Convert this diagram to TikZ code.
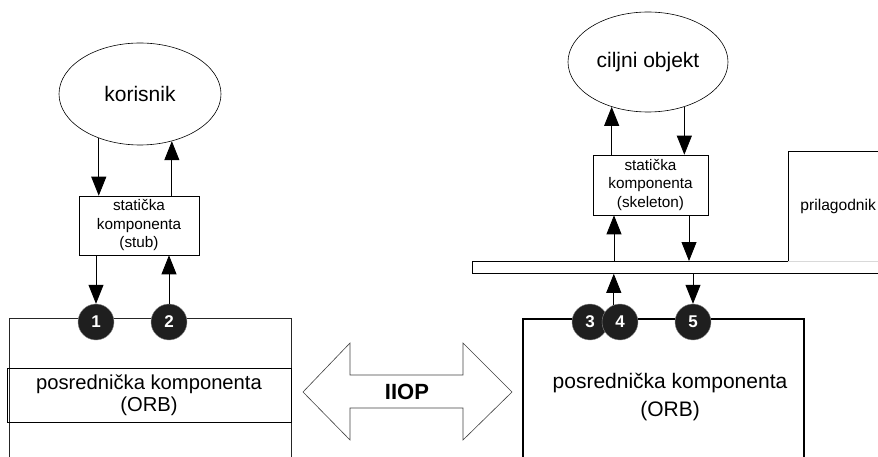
\documentclass[tikz,border=0pt]{standalone}
\usepackage{fontspec}
\setmainfont{Liberation Sans}
\usetikzlibrary{arrows.meta,shapes.geometric}
\begin{document}
\begin{tikzpicture}[x=1pt,y=-1pt,
  line/.style={draw=black!85, line width=0.8pt},
  arr/.style={-{Triangle[length=19pt,width=15pt]}, line width=0.8pt, draw=black, fill=black},
  actor/.style={ellipse, draw, line width=0.6pt, inner sep=0pt, font=\fontsize{21}{24}\selectfont},
  stubbox/.style={rectangle, draw, line width=0.6pt, inner sep=0pt, align=center, font=\fontsize{15.3}{18.5}\selectfont},
  num/.style={circle, fill=black!88, draw=black!45, line width=0.4pt, minimum size=36pt, inner sep=0pt, text=white, font=\bfseries\fontsize{17}{17}\selectfont},
  big/.style={font=\fontsize{20.2}{22}\selectfont, align=center}
]
\useasboundingbox (0,0) rectangle (878,457);

% client and target objects
\node[actor, minimum width=162pt, minimum height=102pt] (kor) at (140,94) {korisnik};
\node[actor, minimum width=160pt, minimum height=100pt] (cilj) at (648,62) {ciljni objekt};

% static components
\node[stubbox, minimum width=120pt, minimum height=59pt] (stub) at (139,225.5) {statička\\komponenta\\(stub)};
\node[stubbox, minimum width=115pt, minimum height=60pt] (skel) at (650.5,185) {statička\\komponenta\\(skeleton)};

% left ORB
\draw[line] (9,457) -- (9,318) -- (291,318) -- (291,457);
\node[draw, line width=0.8pt, minimum width=284pt, minimum height=54pt, inner sep=0pt, big] (orbL) at (149,395) {posrednička komponenta\\(ORB)};

% right ORB
\draw[line width=1.6pt] (523,457) -- (523,319) -- (804,319) -- (804,457);
\node[align=center, font=\fontsize{21}{28}\selectfont] (orbR) at (670,397.5) {posrednička komponenta\\(ORB)};

% object adapter bus and adapter box
\node[draw, line width=0.8pt, minimum width=420pt, minimum height=12pt, inner sep=0pt, anchor=north west] (bus) at (472,261) {};
\node[fill=white, minimum width=100pt, minimum height=110pt, inner sep=0pt, anchor=north west,
      font=\fontsize{15.6}{18}\selectfont] (pril) at (788,151) {prilagodnik};
\draw[line width=0.6pt] (pril.south west) -- (pril.north west) -- (pril.north east);
\draw[line width=0.6pt, black!15] (pril.south west) -- (pril.south east);

% IIOP link
\draw[line width=0.6pt, draw=black!75] (303,392) -- (350,343) -- (350,375) -- (463,375) -- (463,343)
  -- (512,392) -- (463,440) -- (463,408) -- (350,408) -- (350,440) -- cycle;
\node[font=\bfseries\fontsize{22}{22}\selectfont] (iiop) at (407,392) {IIOP};

% numbered points
\node[num] (c1) at (96,322) {1};
\node[num] (c2) at (169,322) {2};
\node[num] (c3) at (590,322) {3};
\node[num] (c4) at (620,322) {4};
\node[num] (c5) at (693,322) {5};

% left call path
\draw[arr] (kor.227) -- (kor.227 |- stub.north);
\draw[arr] (kor.304 |- stub.north) -- (kor.304);
\draw[arr] (stub.south -| c1) -- (c1.north);
\draw[arr] (c2.north) -- (stub.south -| c2);

% right call path
\coordinate (xu) at (614,0);
\coordinate (xd) at (689,0);
\draw[arr] (skel.north -| cilj.231) -- (cilj.231);
\draw[arr] (cilj.309) -- (cilj.309 |- skel.north);
\draw[arr] (bus.north -| xu) -- (skel.south -| xu);
\draw[arr] (skel.south -| xd) -- (bus.north -| xd);
\draw[arr] (c4.110) -- (c4.110 |- bus.south);
\draw[arr] (bus.south -| c5) -- (c5.north);
\end{tikzpicture}
\end{document}
